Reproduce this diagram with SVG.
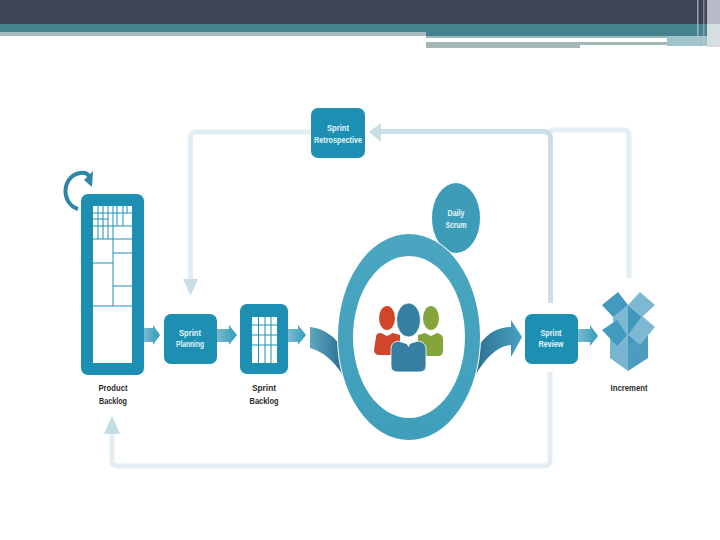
<svg xmlns="http://www.w3.org/2000/svg" width="720" height="540" viewBox="0 0 720 540">
<defs>
<linearGradient id="ag" x1="0" x2="1" y1="0" y2="0"><stop offset="0" stop-color="#7db9cf"/><stop offset="1" stop-color="#2f9dbb"/></linearGradient>
<linearGradient id="cg" x1="0" x2="1" y1="0" y2="0"><stop offset="0" stop-color="#5da9c0"/><stop offset="1" stop-color="#2a6f91"/></linearGradient>
<linearGradient id="cg2" x1="0" x2="1" y1="0" y2="0"><stop offset="0" stop-color="#2f6f90"/><stop offset="1" stop-color="#45a3c0"/></linearGradient>
<linearGradient id="ring" x1="0" x2="0" y1="0" y2="1"><stop offset="0" stop-color="#4aa6c0"/><stop offset="1" stop-color="#3f9fbb"/></linearGradient>
</defs>
<style>
.box{fill:#1c8fb2}
.lbl{font-family:"Liberation Sans",Arial,sans-serif;font-size:9.5px;font-weight:700;text-anchor:middle}
.w{fill:#e8f6fa}
.k{fill:#2a2a2a}
.g{stroke:#1c8fb2;stroke-width:1;fill:none}
.lg{fill:none;stroke:#e2eef3;stroke-width:5}
</style>
<g id="header">
<rect x="0" y="0" width="720" height="24" fill="#3e4457"/>
<rect x="0" y="24" width="720" height="8" fill="#44828d"/>
<rect x="0" y="32" width="426" height="4" fill="#a6bcc0"/>
<rect x="426" y="32" width="281" height="4" fill="#44828d"/>
<rect x="426" y="36" width="241" height="2" fill="#9fb6b6"/>
<rect x="667" y="36" width="40" height="10" fill="#9fc4cb"/>
<rect x="426" y="42" width="154" height="6" fill="#a3b7b6"/>
<rect x="580" y="42" width="87" height="3" fill="#a3b7b6"/>
<rect x="707" y="0" width="13" height="24" fill="#b9bac6"/>
<rect x="707" y="24" width="13" height="23" fill="#d5dfe2"/>
<rect x="697" y="0" width="1.500" height="46" fill="#c3c5cf" opacity=".7"/>
<rect x="703" y="0" width="1.500" height="46" fill="#c3c5cf" opacity=".5"/>
</g>
<g id="connectors">
<path class="lg" d="M310 132H196Q190.500 132 190.500 138V282"/>
<path d="M183 279H198L190.500 296Z" fill="#c9dde4"/>
<path d="M380 131.500H544Q550.500 131.500 550.500 138V303" fill="none" stroke="#c9dee6" stroke-width="5"/>
<path d="M369 132L381 123V142Z" fill="#c9dee4"/>
<path class="lg" d="M550 130H624Q629 130 629 136V278"/>
<path class="lg" d="M550 372V460Q550 466 544 466H118Q112 466 112 460V430"/>
<path d="M104 434L112 416L120 434Z" fill="#c5dde5"/>
<path d="M144 328H153V325L160 335L153 345V342H144Z" fill="url(#ag)"/>
<path d="M217 329H229V325L237 335L229 345V342H217Z" fill="url(#ag)"/>
<path d="M288 329H298V325L306 335L298 345V342H288Z" fill="url(#ag)"/>
<path d="M578 329H590V325L598 336L590 346V342H578Z" fill="url(#ag)"/>
<path d="M310 327C322 328 333 335 340 345L342 374C334 361 322 351 310 348Z" fill="url(#cg)"/>
<path d="M476 350C485 335 496 327 511 327V320L522 337L511 357V345C497 346 486 358 476 374Z" fill="url(#cg2)"/>
</g>
<g id="product-backlog">
<path d="M78 209C60 203 62 176 80 173C85 172 88 174 90 177" fill="none" stroke="#2f86a5" stroke-width="4"/>
<path d="M84 180L93 171L92 187Z" fill="#2f86a5"/>
<rect x="81" y="194" width="63" height="181" rx="7" class="box"/>
<rect x="93" y="206" width="39" height="157" fill="#fff"/>
<path class="g" d="M93 213H132M93 219H108M93 226H132M93 239H132M113 253H132M93 263H113M113 286H132M93 306H132M98 206V239M103 206V239M108 206V239M113 206V306M117 206V226M123 206V226M127 206V213"/>
<text class="lbl k" x="113" y="391" textLength="29" lengthAdjust="spacingAndGlyphs">Product</text>
<text class="lbl k" x="113" y="404" textLength="28" lengthAdjust="spacingAndGlyphs">Backlog</text>
</g>
<g id="sprint-planning">
<rect x="164" y="314" width="53" height="50" rx="7" class="box"/>
<text class="lbl w" x="190" y="336" textLength="22" lengthAdjust="spacingAndGlyphs">Sprint</text>
<text class="lbl w" x="190" y="347" textLength="28" lengthAdjust="spacingAndGlyphs">Planning</text>
</g>
<g id="sprint-backlog">
<rect x="240" y="304" width="48" height="70" rx="7" class="box"/>
<rect x="252" y="317" width="25" height="46" fill="#fff"/>
<path class="g" d="M258.500 317V363M265 317V363M271 317V363M252 325H277M252 335H277M252 345H277"/>
<text class="lbl k" x="264" y="391" textLength="24" lengthAdjust="spacingAndGlyphs">Sprint</text>
<text class="lbl k" x="264" y="404" textLength="29" lengthAdjust="spacingAndGlyphs">Backlog</text>
</g>
<g id="daily-scrum">
<ellipse cx="456" cy="218" rx="24" ry="35" fill="#3d9cb8"/>
<text class="lbl w" x="456" y="216" textLength="17" lengthAdjust="spacingAndGlyphs">Daily</text>
<text class="lbl w" x="456" y="228" textLength="21" lengthAdjust="spacingAndGlyphs">Scrum</text>
</g>
<g id="scrum-ring">
<ellipse cx="409" cy="337" rx="72" ry="104" fill="#fff"/>
<path fill-rule="evenodd" fill="url(#ring)" d="M338 337A71 103 0 0 1 480 337A71 103 0 0 1 338 337ZM353 337A56 81 0 0 0 465 337A56 81 0 0 0 353 337Z"/>
</g>
<g id="team">
<ellipse cx="387" cy="318" rx="8" ry="12" fill="#d0462a"/>
<path d="M376 337Q376 333 381 333L387 336L393 333L400 335V355H380Q374 355 374 350Z" fill="#d0462a"/>
<ellipse cx="431" cy="318" rx="8" ry="12" fill="#83a63c"/>
<path d="M418 335L425 333L431 336L437 333Q443 334 443 339V351Q443 356 438 356H418Z" fill="#83a63c"/>
<ellipse cx="408.500" cy="320" rx="12" ry="17" fill="#367fa3" stroke="#fff" stroke-width=".8"/>
<path d="M391 349Q391 342 398 341L408 344L418 341Q426 342 426 349V366Q426 372 419 372H398Q391 372 391 366Z" fill="#367fa3" stroke="#fff" stroke-width=".8"/>
<path d="M405 341H412L408.500 347Z" fill="#fff"/>
</g>
<g id="sprint-review">
<rect x="525" y="314" width="53" height="50" rx="7" class="box"/>
<text class="lbl w" x="551" y="336" textLength="21" lengthAdjust="spacingAndGlyphs">Sprint</text>
<text class="lbl w" x="551" y="347" textLength="25" lengthAdjust="spacingAndGlyphs">Review</text>
</g>
<g id="sprint-retrospective">
<rect x="311" y="108" width="54" height="50" rx="7" class="box"/>
<text class="lbl w" x="338" y="131" textLength="22" lengthAdjust="spacingAndGlyphs">Sprint</text>
<text class="lbl w" x="338" y="143" textLength="48" lengthAdjust="spacingAndGlyphs">Retrospective</text>
</g>
<g id="increment">
<path d="M610 325L628 340V371L610 358Z" fill="#78b5d1"/>
<path d="M648 325L628 340V371L648 358Z" fill="#4c9cc0"/>
<path d="M613 315L628 305V345L613 335Z" fill="#7db9d2"/>
<path d="M628 305L642 317V335L628 345Z" fill="#3f97b9"/>
<path d="M602 305L618 292L628 305L613 317Z" fill="#429bbf"/>
<path d="M628 305L640 292L655 305L642 317Z" fill="#7db9d2"/>
<path d="M602 330L617 320L627 335L617 346Z" fill="#429bbf"/>
<path d="M628 335L642 316L655 327L640 345Z" fill="#7db9d2"/>
<text class="lbl k" x="629" y="391" textLength="37" lengthAdjust="spacingAndGlyphs">Increment</text>
</g>
</svg>
